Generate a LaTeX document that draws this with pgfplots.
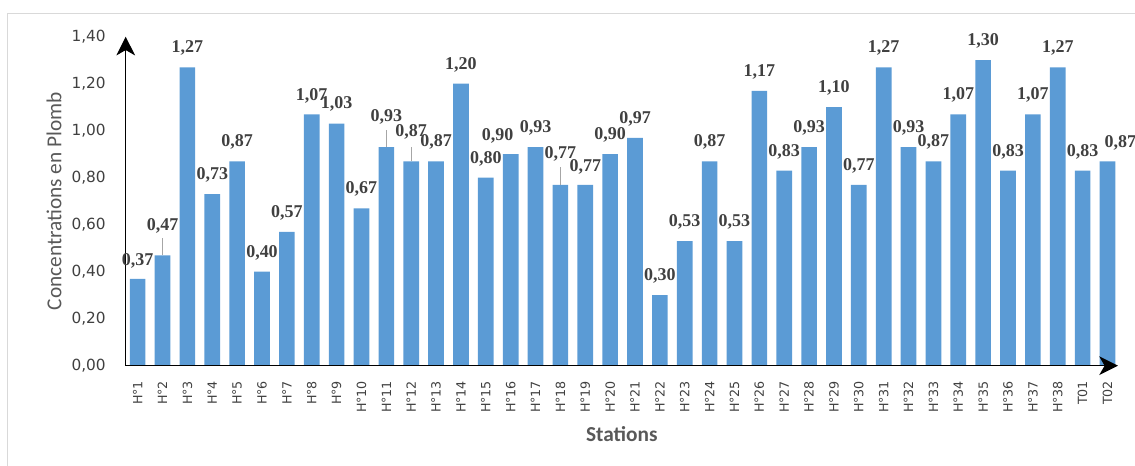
\documentclass[border=0pt]{standalone}
\usepackage{fontspec}
\usepackage{pgfplots}
\pgfplotsset{compat=1.18}
\usepackage{pgfplotstable}
\usetikzlibrary{arrows.meta}
\setmainfont{Liberation Serif}
\newfontfamily\tickfont{DejaVu Sans}
\newfontfamily\labfont{Carlito}
\definecolor{barblue}{HTML}{5B9BD5}
\definecolor{txtdark}{HTML}{404040}
\definecolor{txtgray}{HTML}{595959}
\definecolor{leadgray}{HTML}{A6A6A6}
\definecolor{framegray}{HTML}{D9D9D9}

% x = station index, y = lead concentration,
% dx/dy = value label offset (pt), lead = leader line length
\pgfplotstableread{
x y dx dy lead
0 0.37 0 13.5 0
1 0.47 0 21.75 0.072
2 1.27 0 14.25 0
3 0.73 0 14.25 0
4 0.87 0 14.25 0
5 0.40 0 14.25 0
6 0.57 0 14.25 0
7 1.07 0 14.0 0
8 1.03 0 15 0
9 0.67 0 14.25 0
10 0.93 0 22.9 0.072
11 0.87 0 22.1 0.062
12 0.87 0 14.6 0
13 1.20 0 14.25 0
14 0.80 0 14.25 0
15 0.90 -9.75 13.5 0
16 0.93 0 14.25 0
17 0.77 0 23.25 0.077
18 0.77 0 13.5 0
19 0.90 0 14.25 0
20 0.97 0 14.25 0
21 0.30 0 14.25 0
22 0.53 0 14.25 0
23 0.87 0 14.25 0
24 0.53 0 14.25 0
25 1.17 0 14.25 0
26 0.83 0 14.25 0
27 0.93 0 14.25 0
28 1.10 0 14.25 0
29 0.77 0 14.25 0
30 1.27 0 14.25 0
31 0.93 0 14.25 0
32 0.87 0 14.25 0
33 1.07 0 14.25 0
34 1.30 0 14.25 0
35 0.83 0 14.25 0
36 1.07 0 14.25 0
37 1.27 0 14.25 0
38 0.83 0 14.25 0
39 0.87 9.75 13.9 0
}\plomb

\pgfkeys{/pgf/number format/frcomma/.style={
  /pgf/number format/fixed, /pgf/number format/fixed zerofill,
  /pgf/number format/precision=2, /pgf/number format/use comma,
  /pgf/number format/assume math mode=true}}

\tikzset{axisarrow/.style={black, line width=1pt, -{Stealth[length=14pt, width=14pt, inset=4pt]}}}

\begin{document}
\begin{tikzpicture}
\begin{axis}[
  scale only axis,
  width=744.2pt, height=246.75pt,
  xmin=-0.48, xmax=39.42,
  ymin=0, ymax=1.4,
  enlargelimits=false,
  clip=false,
  axis on top,
  axis lines=left,
  axis line style={axisarrow},
  x axis line style={axisarrow},
  y axis line style={axisarrow},
  every outer x axis line/.append style={axisarrow},
  every outer y axis line/.append style={axisarrow},
  major tick length=0pt,
  xtick={0,...,39},
  xticklabels={H°1,H°2,H°3,H°4,H°5,H°6,H°7,H°8,H°9,H°10,H°11,H°12,H°13,H°14,H°15,H°16,H°17,H°18,H°19,H°20,H°21,H°22,H°23,H°24,H°25,H°26,H°27,H°28,H°29,H°30,H°31,H°32,H°33,H°34,H°35,H°36,H°37,H°38,T01,T02},
  xticklabel style={font=\tickfont\fontsize{9.5}{11}\selectfont, color=txtdark, rotate=90, anchor=east, inner sep=0pt, xshift=-11.25pt},
  ytick={0,0.2,0.4,0.6,0.8,1.0,1.2,1.4},
  yticklabel style={font=\tickfont\fontsize{11.5}{13}\selectfont, color=txtdark, anchor=east, inner sep=0pt, xshift=-14.8pt,
    /pgf/number format/frcomma},
  ylabel={Concentrations en Plomb},
  ylabel style={at={(rel axis cs:0,0.5)}, anchor=center, yshift=53.8pt,
    font=\labfont\fontsize{16}{18}\selectfont, color=txtgray},
  xlabel={Stations},
  xlabel style={at={(rel axis cs:0.5,0)}, anchor=center, yshift=-51.2pt,
    font=\labfont\bfseries\fontsize{16}{18}\selectfont, color=txtgray},
]
\addplot[ybar, bar width=0.63, fill=barblue, draw=none,
  point meta=y,
  visualization depends on={\thisrow{dx} \as \lblx},
  visualization depends on={\thisrow{dy} \as \lbly},
  nodes near coords,
  nodes near coords style={/pgf/number format/frcomma},
  every node near coord/.append style={anchor=center, inner sep=0pt, xshift=\lblx pt, yshift=\lbly pt,
    font=\bfseries\fontsize{13.5}{15}\selectfont, color=txtdark},
] table[x=x, y=y] {\plomb};
% leader lines from a few bars up to their labels
\addplot[draw=none, mark=none, forget plot,
  error bars/.cd, y dir=plus, y explicit, error mark=none,
  error bar style={draw=leadgray, line width=0.8pt}]
  table[x=x, y=y, y error=lead] {\plomb};
\coordinate (O) at (rel axis cs:0,0);
\end{axis}
\draw[framegray, line width=0.8pt] ([shift={(-89pt,-80pt)}]O) -- ([shift={(-89pt,264.5pt)}]O) -- ([shift={(765pt,264.5pt)}]O);
\pgfresetboundingbox
\useasboundingbox ([shift={(-94.3pt,-74.5pt)}]O) rectangle ([shift={(757pt,274.3pt)}]O);
\end{tikzpicture}
\end{document}
